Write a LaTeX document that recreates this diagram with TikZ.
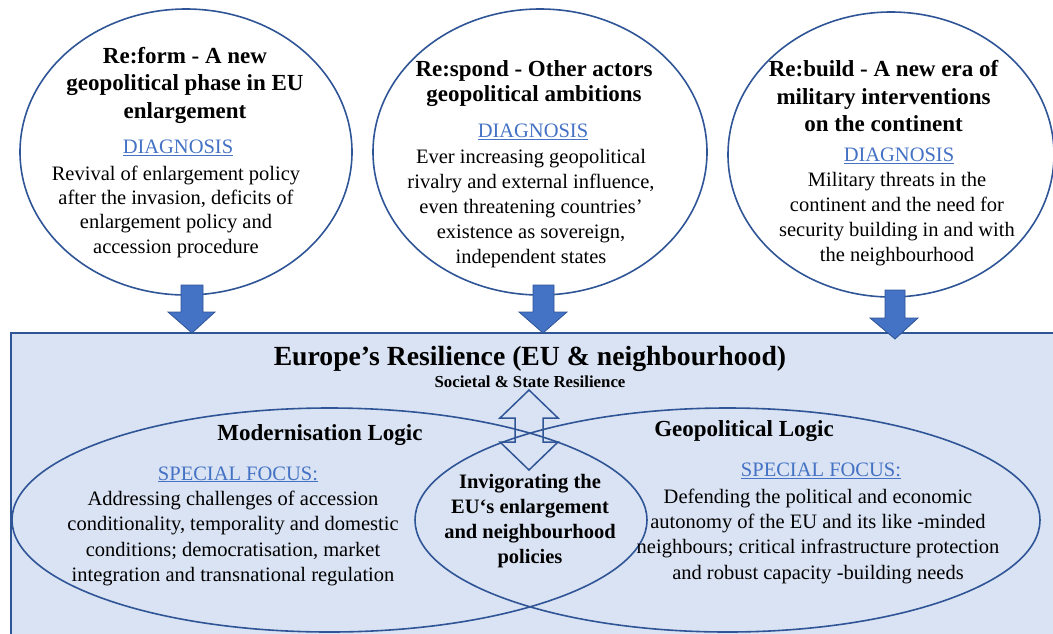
\documentclass[tikz,border=0pt]{standalone}
\usepackage{fontspec}
\setmainfont{Liberation Serif}
\usetikzlibrary{shapes.geometric}
\definecolor{edge}{HTML}{2F5597}
\definecolor{arrowfill}{HTML}{4472C4}
\definecolor{boxfill}{HTML}{DAE3F3}
\definecolor{linkblue}{HTML}{4472C4}
\newcommand{\diag}[1]{\textcolor{linkblue}{\underline{#1}}}
\begin{document}
\begin{tikzpicture}[x=1pt,y=-1pt,
  bubble/.style={ellipse, draw=edge, line width=1.6pt, fill=white, inner sep=0pt},
  venn/.style={ellipse, draw=edge, line width=1.6pt, inner sep=0pt, minimum height=224pt},
  ttl/.style={anchor=base, align=center, font=\bfseries\fontsize{23}{27.5}\selectfont},
  bodytxt/.style={anchor=base, align=center, font=\fontsize{20.5}{25}\selectfont},
  lowtxt/.style={anchor=base, align=center, font=\fontsize{20.5}{25.4}\selectfont},
  midtxt/.style={anchor=base, align=center, font=\bfseries\fontsize{20.5}{25}\selectfont},
  blockarrow/.style={fill=arrowfill, draw=edge, line width=0.8pt},
  dblarrow/.style={draw=edge, line width=1.5pt, line join=miter},
  resbox/.style={fill=boxfill, draw=edge, line width=1.8pt}
]
\useasboundingbox (0,0) rectangle (1053,633);
\clip (0,0) rectangle (1053,633);

% main box
\draw[resbox] (11,333) rectangle (1080,660);

% Venn ellipses
\node[venn, minimum width=635pt] (modern) at (329.5,520) {};
\node[venn, minimum width=625pt] (geo) at (727.5,520) {};

% double arrow
\draw[dblarrow] (529,390) -- (558,418) -- (543,418) -- (543,442) -- (558,442) -- (529,470)
  -- (500,442) -- (515,442) -- (515,418) -- (500,418) -- cycle;

% titles in box
\node[anchor=base, font=\bfseries\fontsize{27.7}{32}\selectfont] (restitle) at (530,365) {Europe’s Resilience (EU \& neighbourhood)};
\node[anchor=base, font=\bfseries\fontsize{16.8}{19}\selectfont] (ressub) at (530,387.5) {Societal \& State Resilience};

\node[ttl] (modtitle) at (320,440.5) {Modernisation Logic};
\node[ttl] (geotitle) at (744,436) {Geopolitical Logic};

\node[bodytxt] (modfocus) at (238,480) {\diag{SPECIAL FOCUS:}};
\node[lowtxt] (modbody) at (233,581.5) {Addressing challenges of accession\\conditionality, temporality and domestic\\conditions; democratisation, market\\integration and transnational regulation};

\node[bodytxt] (geofocus) at (821,476.7) {\diag{SPECIAL FOCUS:}};
\node[lowtxt] (geobody) at (818,579.3) {Defending the political and economic\\autonomy of the EU and its like -minded\\neighbours; critical infrastructure protection\\and robust capacity -building needs};

\node[midtxt] (mid) at (530,563.3) {Invigorating the\\EU‘s enlargement\\and neighbourhood\\policies};

% circles
\node[bubble, minimum width=332pt, minimum height=286pt] (c1) at (186,152) {};
\node[bubble, minimum width=334pt, minimum height=286pt] (c2) at (540,152) {};
\node[bubble, minimum width=326pt, minimum height=285pt] (c3) at (891,154.5) {};

\node[ttl] (t1) at (185,118.3) {Re:form - A new\\geopolitical phase in EU\\enlargement};
\node[bodytxt] (d1) at (178,153.3) {\diag{DIAGNOSIS}};
\node[bodytxt, font=\fontsize{20.5}{24.4}\selectfont] (b1) at (176,253.2) {Revival of enlargement policy\\after the invasion, deficits of\\enlargement policy and\\accession procedure};

\node[ttl, font=\bfseries\fontsize{23}{25.7}\selectfont] (t2) at (534,101.7) {Re:spond - Other actors\\geopolitical ambitions};
\node[bodytxt] (d2) at (533,137.7) {\diag{DIAGNOSIS}};
\node[bodytxt] (b2) at (531,263.3) {Ever increasing geopolitical\\rivalry and external influence,\\even threatening countries’\\existence as sovereign,\\independent states};

\node[ttl] (t3) at (883.5,131.7) {Re:build - A new era of\\military interventions\\on the continent};
\node[bodytxt] (d3) at (899,161.7) {\diag{DIAGNOSIS}};
\node[bodytxt] (b3) at (897,261.7) {Military threats in the\\continent and the need for\\security building in and with\\the neighbourhood};

% block arrows
\draw[blockarrow] (181,285) -- (203,285) -- (203,312) -- (215,312) -- (192,333) -- (168,312) -- (181,312) -- cycle;
\draw[blockarrow] (533,285) -- (554,285) -- (554,312) -- (567,312) -- (543,333) -- (519,312) -- (533,312) -- cycle;
\draw[blockarrow] (885,290) -- (905,290) -- (905,318) -- (918,318) -- (895,339) -- (870,318) -- (885,318) -- cycle;
\end{tikzpicture}
\end{document}
